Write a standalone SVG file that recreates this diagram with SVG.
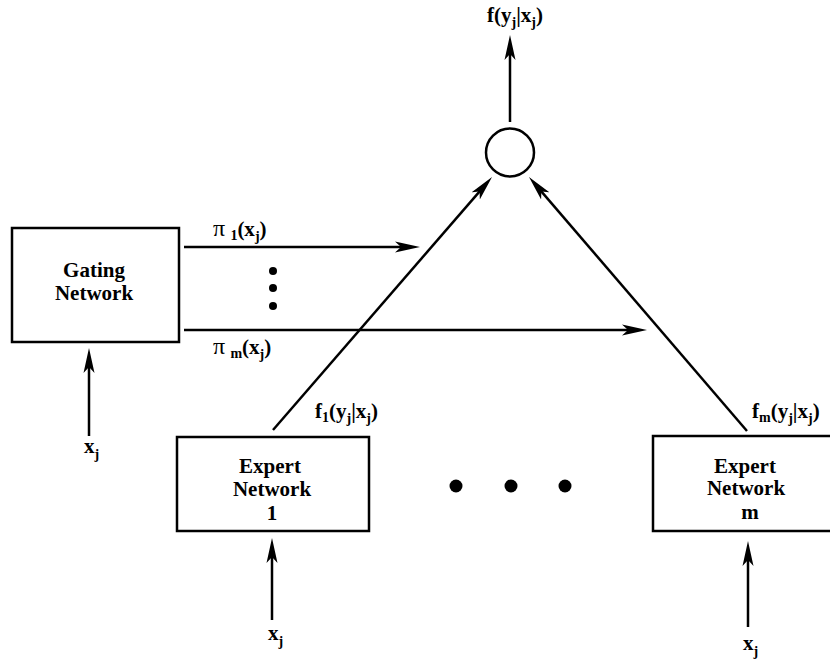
<svg xmlns="http://www.w3.org/2000/svg" width="830" height="663" viewBox="0 0 830 663">
<style>
text{font-family:"Liberation Serif","Times New Roman",serif;font-weight:bold;font-size:21px;fill:#000}
.c{text-anchor:middle}
.s{font-size:14px}
.p{font-size:24px;font-weight:normal}
.box{fill:#fff;stroke:#000;stroke-width:2.5}
.ln{fill:none;stroke:#000;stroke-width:2.5;marker-end:url(#ah)}
</style>
<defs>
<marker id="ah" viewBox="-25 -6 27 12" refX="-10" refY="0" markerWidth="27" markerHeight="12" markerUnits="userSpaceOnUse" orient="auto">
<path d="M0,0 L-25,-5.5 L-19,0 L-25,5.5 Z" fill="#000"/>
</marker>
</defs>
<rect width="830" height="663" fill="#fff"/>
<g id="connectors">
<line class="ln" x1="510" y1="122" x2="510" y2="45"/>
<line class="ln" x1="273" y1="430" x2="485.5" y2="184.6"/>
<line class="ln" x1="747" y1="431" x2="535.5" y2="184.6"/>
<line class="ln" x1="184" y1="247" x2="410" y2="247"/>
<line class="ln" x1="184" y1="330" x2="637" y2="330"/>
<line class="ln" x1="89" y1="436" x2="89" y2="358"/>
<line class="ln" x1="272" y1="620" x2="272" y2="548"/>
<line class="ln" x1="748" y1="627" x2="748" y2="551"/>
</g>
<g id="combiner">
<circle cx="510" cy="152.5" r="24" class="box"/>
</g>
<g id="gating">
<rect x="12" y="228" width="167" height="114" class="box"/>
<text x="94" y="277" class="c">Gating</text>
<text x="94" y="300" class="c">Network</text>
</g>
<g id="expert1">
<rect x="177" y="437" width="192" height="94" class="box"/>
<text x="270" y="473" class="c">Expert</text>
<text x="272" y="496" class="c">Network</text>
<text x="272" y="520" class="c">1</text>
</g>
<g id="expertm">
<rect x="653" y="436" width="180" height="95" class="box"/>
<text x="745" y="473" class="c">Expert</text>
<text x="746" y="495" class="c">Network</text>
<text x="750" y="519" class="c">m</text>
</g>
<g id="dots">
<circle cx="273" cy="271" r="4"/>
<circle cx="273" cy="288" r="4"/>
<circle cx="273" cy="306" r="4"/>
<circle cx="456" cy="486" r="6.5"/>
<circle cx="511" cy="486" r="6.5"/>
<circle cx="565" cy="486" r="6.5"/>
</g>
<g id="labels">
<text x="487" y="22">f(y<tspan class="s" dy="5">j</tspan><tspan dy="-5">|x</tspan><tspan class="s" dy="5">j</tspan><tspan dy="-5">)</tspan></text>
<text x="213" y="236"><tspan class="p">π</tspan> <tspan class="s" dy="4">1</tspan><tspan dy="-4">(x</tspan><tspan class="s" dy="5">j</tspan><tspan dy="-5">)</tspan></text>
<text x="213" y="354"><tspan class="p">π</tspan> <tspan class="s" dy="4">m</tspan><tspan dy="-4">(x</tspan><tspan class="s" dy="5">j</tspan><tspan dy="-5">)</tspan></text>
<text x="315" y="418">f<tspan class="s" dy="4">1</tspan><tspan dy="-4">(y</tspan><tspan class="s" dy="5">j</tspan><tspan dy="-5">|x</tspan><tspan class="s" dy="5">j</tspan><tspan dy="-5">)</tspan></text>
<text x="752" y="418">f<tspan class="s" dy="4">m</tspan><tspan dy="-4">(y</tspan><tspan class="s" dy="5">j</tspan><tspan dy="-5">|x</tspan><tspan class="s" dy="5">j</tspan><tspan dy="-5">)</tspan></text>
<text x="84" y="453">x<tspan class="s" dy="6">j</tspan></text>
<text x="268" y="640">x<tspan class="s" dy="6">j</tspan></text>
<text x="743" y="650">x<tspan class="s" dy="6">j</tspan></text>
</g>
</svg>
